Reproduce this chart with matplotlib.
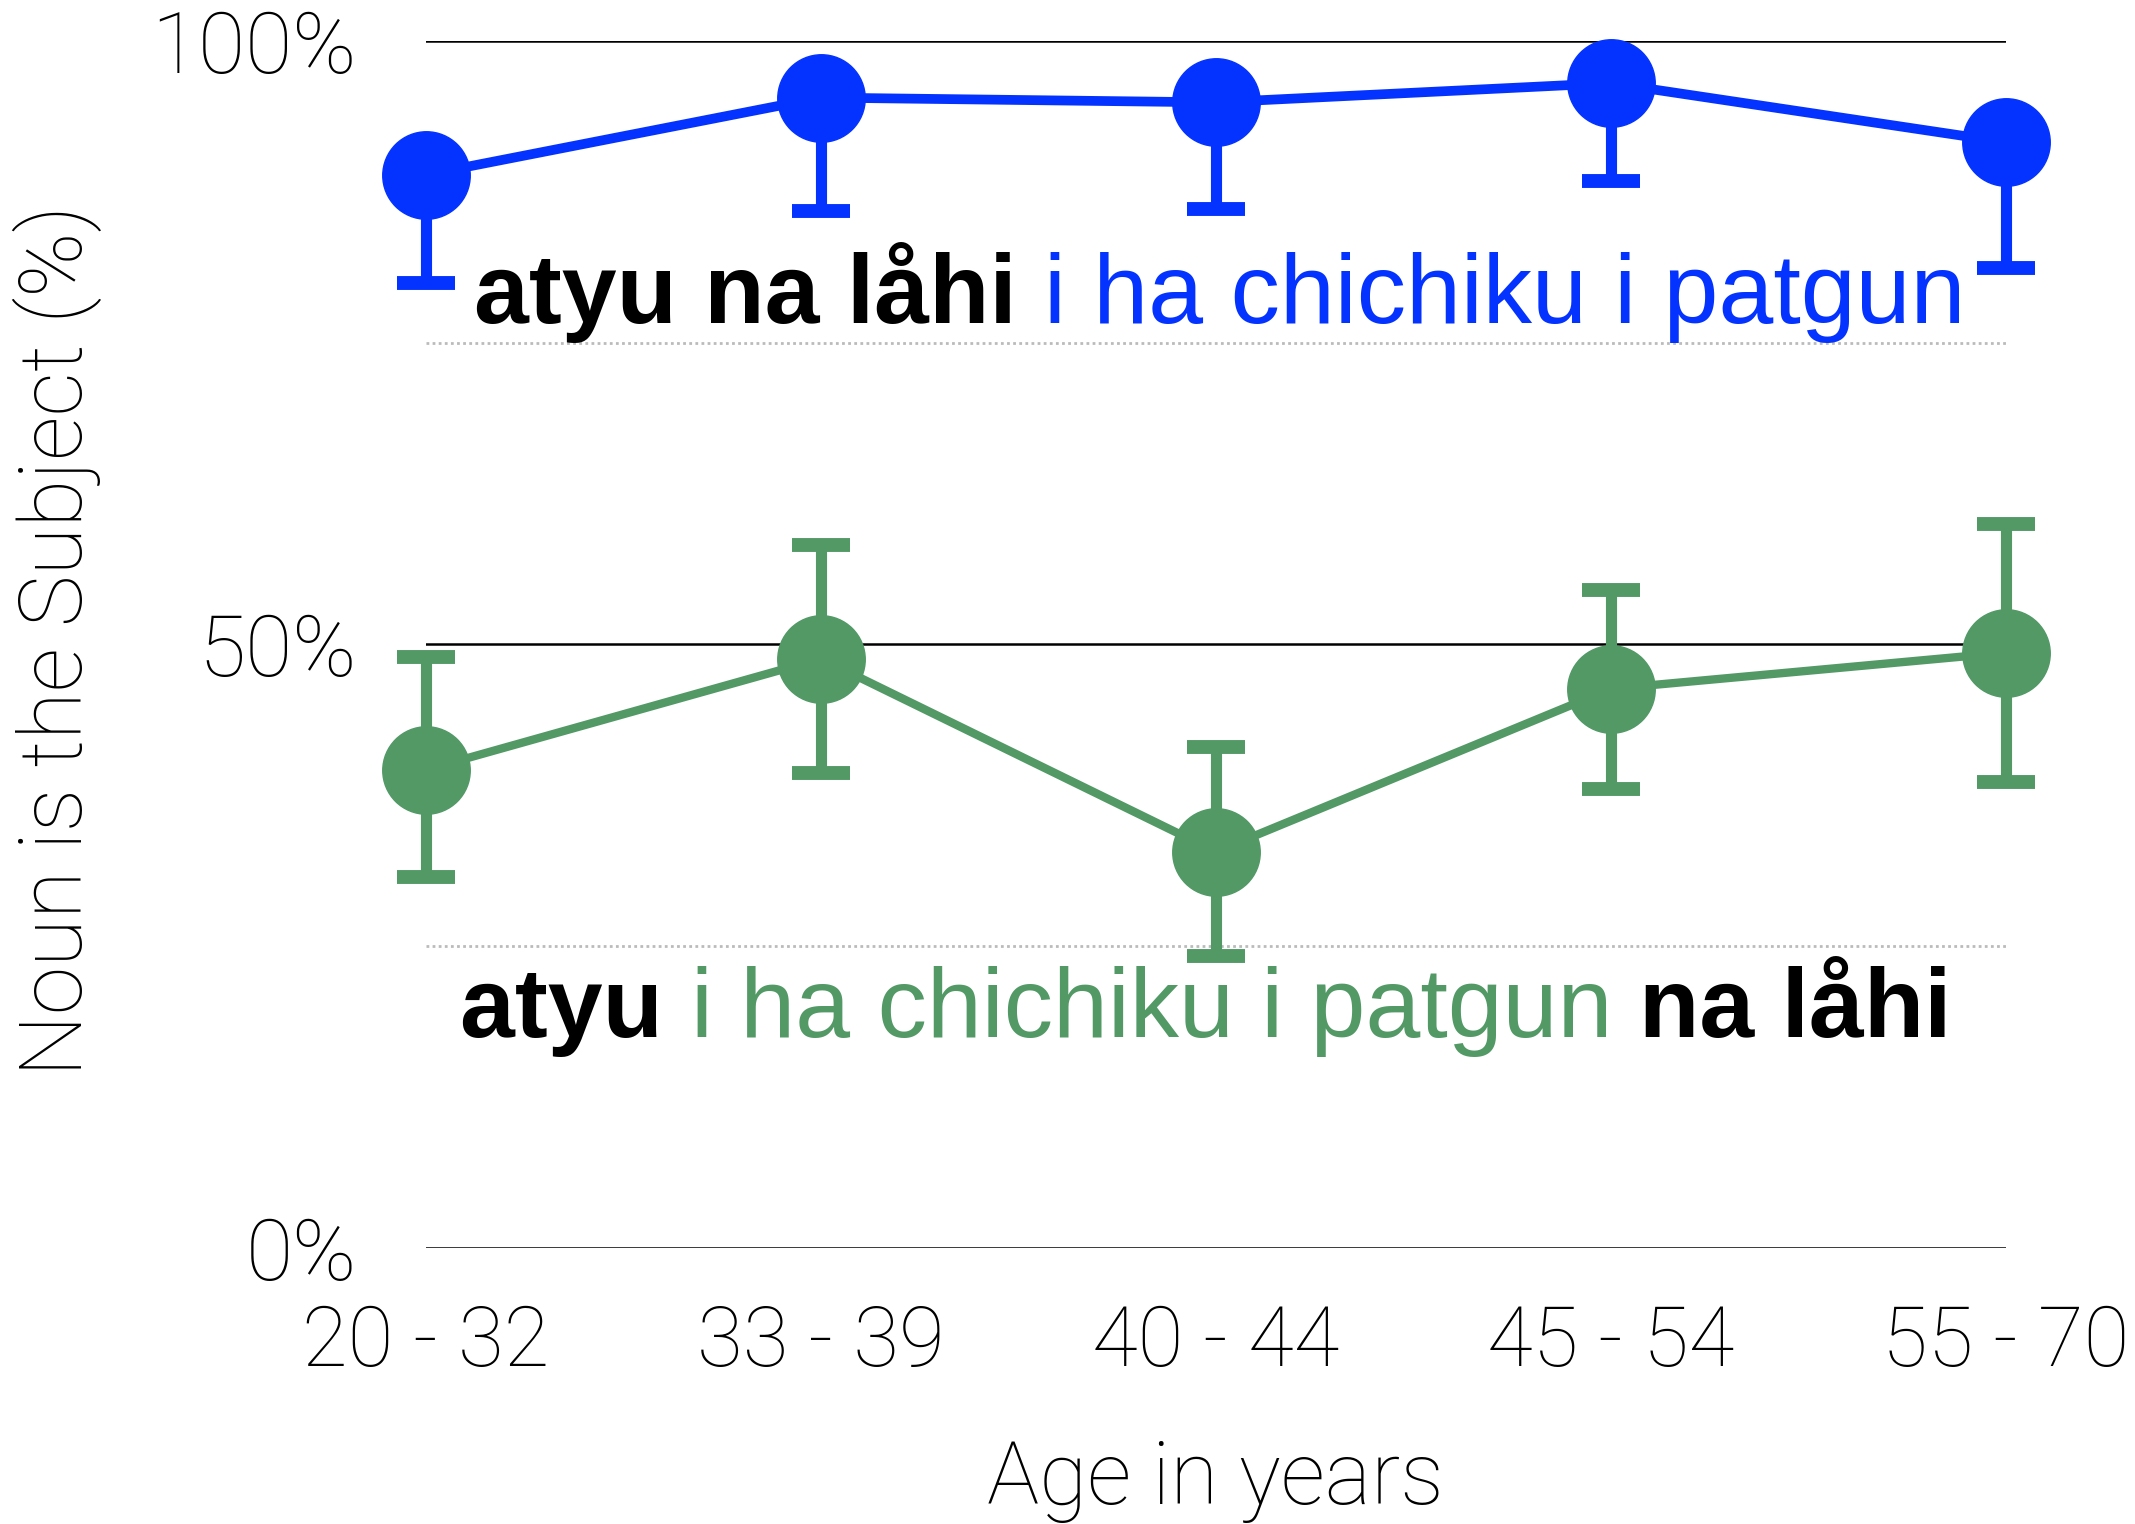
import matplotlib
matplotlib.use('Agg')
import matplotlib.pyplot as plt
from matplotlib.offsetbox import TextArea, HPacker, AnnotationBbox

# age groups and values (percent)
ages = ['20 - 32', '33 - 39', '40 - 44', '45 - 54', '55 - 70']
blue_vals = [88.9, 95.3, 94.9, 96.5, 91.6]
blue_low = [79.9, 85.9, 86.1, 88.4, 81.2]
green_vals = [39.6, 48.8, 32.8, 46.3, 49.3]
green_low = [30.7, 39.3, 24.2, 38.0, 38.6]
green_high = [48.9, 58.2, 41.5, 54.5, 60.0]
yticks = [0, 50, 100]
ytick_labels = ['0%', '50%', '100%']

BLUE = '#0433FF'
GREEN = '#529966'
THIN = 'Roboto'

fig = plt.figure(figsize=(21.35, 15.24), dpi=100)
ax = fig.add_axes([0.1996, 0.1814, 0.7398, 0.7918])
x = list(range(len(ages)))

# reference lines
for y in yticks:
    ax.axhline(y, color='black', lw=1.8, zorder=1)
for y in [25, 75]:
    ax.axhline(y, color='#bbbbbb', lw=2, ls=(0, (1, 1.2)), zorder=1)

# error bars (blue only has the lower half)
blue_err = [[v - l for v, l in zip(blue_vals, blue_low)], [0] * len(blue_vals)]
green_err = [[v - l for v, l in zip(green_vals, green_low)],
             [h - v for v, h in zip(green_vals, green_high)]]
ax.errorbar(x, blue_vals, yerr=blue_err, fmt='none', ecolor=BLUE, elinewidth=8,
            capsize=21, capthick=10, clip_on=False, zorder=2)
ax.errorbar(x, green_vals, yerr=green_err, fmt='none', ecolor=GREEN, elinewidth=8,
            capsize=21, capthick=10, clip_on=False, zorder=2)

ax.plot(x, blue_vals, color=BLUE, lw=7, marker='o', ms=63, clip_on=False, zorder=3)
ax.plot(x, green_vals, color=GREEN, lw=6, marker='o', ms=63, clip_on=False, zorder=3)

ax.set_xlim(0, 4)
ax.set_ylim(0, 100)
ax.set_xticks(x)
ax.set_xticklabels(ages, fontfamily=THIN, fontweight='light', fontsize=60)
ax.set_yticks(yticks)
ax.set_yticklabels(ytick_labels, fontfamily=THIN, fontweight='light', fontsize=62)
ax.tick_params(axis='both', length=0)
ax.tick_params(axis='y', pad=50)
ax.tick_params(axis='x', pad=40)
for s in ax.spines.values():
    s.set_visible(False)


# multi-colour phrase centered on a point
def phrase(parts, xy):
    boxes = []
    for txt, col, wt in parts:
        boxes.append(TextArea(txt, textprops=dict(color=col, fontsize=71, fontweight=wt,
                                                   fontfamily='Liberation Sans')))
    pack = HPacker(children=boxes, align='baseline', pad=0, sep=0)
    ab = AnnotationBbox(pack, xy, xycoords='data', frameon=False, box_alignment=(0.5, 0.0),
                        pad=0, annotation_clip=False)
    ax.add_artist(ab)


phrase([('atyu na låhi ', 'black', 'bold'), ('i ha chichiku i patgun', BLUE, 'normal')], (2.01, 75.0))
phrase([('atyu ', 'black', 'bold'), ('i ha chichiku i patgun ', GREEN, 'normal'),
        ('na låhi', 'black', 'bold')], (1.975, 15.8))

fig.text(0.027, 0.58, 'Noun is the Subject (%)', rotation=90, ha='center', va='center',
         fontfamily=THIN, fontweight='light', fontsize=63)
fig.text(0.5695, 0.028, 'Age in years', ha='center', va='center',
         fontfamily=THIN, fontweight='light', fontsize=63)

plt.savefig('out.png', dpi=100)
